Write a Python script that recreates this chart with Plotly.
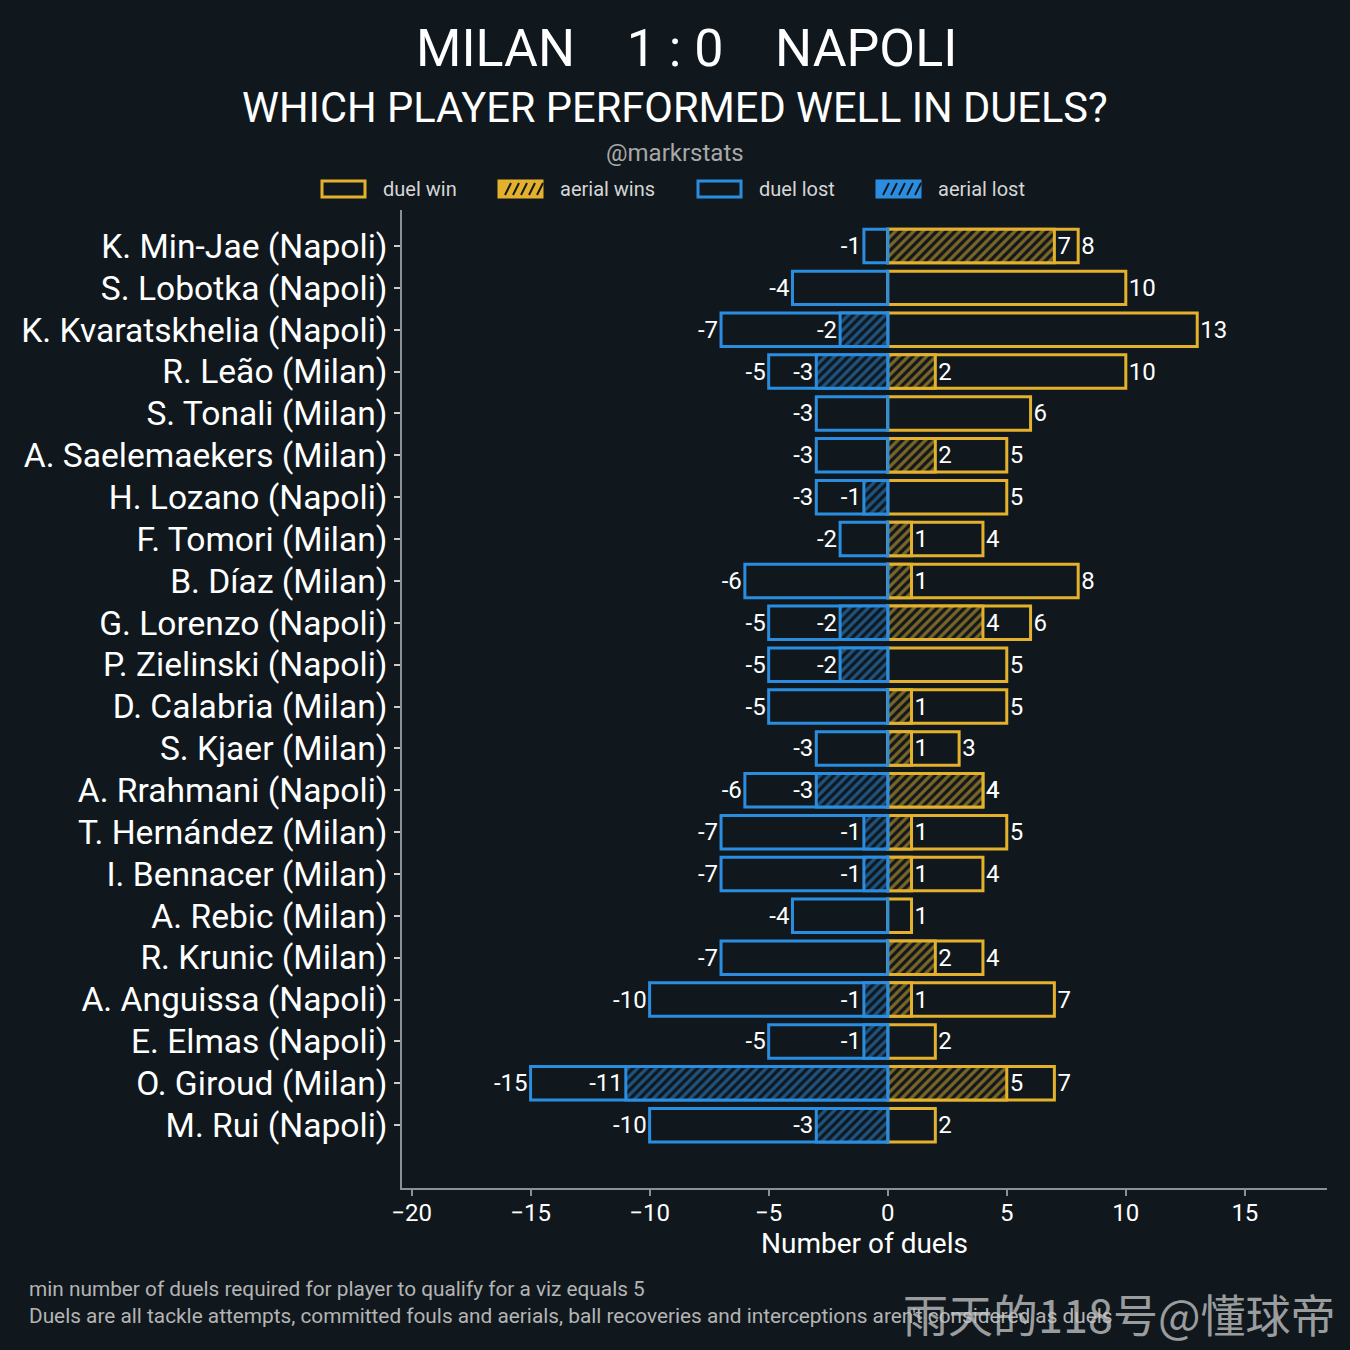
import plotly.graph_objects as go

# data (top to bottom)
players = [
    "K. Min-Jae (Napoli)", "S. Lobotka (Napoli)", "K. Kvaratskhelia (Napoli)",
    "R. Leão (Milan)", "S. Tonali (Milan)", "A. Saelemaekers (Milan)",
    "H. Lozano (Napoli)", "F. Tomori (Milan)", "B. Díaz (Milan)",
    "G. Lorenzo (Napoli)", "P. Zielinski (Napoli)", "D. Calabria (Milan)",
    "S. Kjaer (Milan)", "A. Rrahmani (Napoli)", "T. Hernández (Milan)",
    "I. Bennacer (Milan)", "A. Rebic (Milan)", "R. Krunic (Milan)",
    "A. Anguissa (Napoli)", "E. Elmas (Napoli)", "O. Giroud (Milan)",
    "M. Rui (Napoli)",
]
duel_win = [8, 10, 13, 10, 6, 5, 5, 4, 8, 6, 5, 5, 3, 4, 5, 4, 1, 4, 7, 2, 7, 2]
aerial_win = [7, 0, 0, 2, 0, 2, 0, 1, 1, 4, 0, 1, 1, 4, 1, 1, 0, 2, 1, 0, 5, 0]
duel_lost = [-1, -4, -7, -5, -3, -3, -3, -2, -6, -5, -5, -5, -3, -6, -7, -7, -4, -7, -10, -5, -15, -10]
aerial_lost = [0, 0, -2, -3, 0, 0, -1, 0, 0, -2, -2, 0, 0, -3, -1, -1, 0, 0, -1, -1, -11, -3]

BG = "#10181e"
GOLD = "#e3b12c"
BLUE = "#2b8de0"
AXIS = "#8a9297"
FONT = "Roboto"

# plot area in pixels
L, R, T, B = 402, 23, 210, 162
W = H = 1350
PW, PH = W - L - R, H - T - B


def px(x):
    return (x - L) / PW


def py(y):
    return (H - B - y) / PH


def nz(vals):
    return [v if v != 0 else None for v in vals]


def labels(vals):
    return [str(v) if v != 0 else "" for v in vals]


fig = go.Figure()


def add_bar(vals, color, hatched, name):
    marker = dict(line=dict(color=color, width=3))
    if hatched:
        marker["color"] = BG
        marker["pattern"] = dict(shape="/", fgcolor=color, bgcolor=BG,
                                 size=6.5, solidity=0.5, fillmode="overlay")
    else:
        marker["color"] = "rgba(0,0,0,0)"
    fig.add_trace(go.Bar(
        y=players, x=nz(vals), orientation="h", name=name,
        marker=marker, width=0.8,
        text=labels(vals), textposition="outside",
        textfont=dict(family=FONT, size=24, color="white"),
        constraintext="none", cliponaxis=False, showlegend=False,
    ))


add_bar(duel_win, GOLD, False, "duel win")
add_bar(aerial_win, GOLD, True, "aerial wins")
add_bar(duel_lost, BLUE, False, "duel lost")
add_bar(aerial_lost, BLUE, True, "aerial lost")

# manual legend (wide boxes like the original)
legend_items = [
    (322, "duel win", GOLD, False),
    (499, "aerial wins", GOLD, True),
    (698, "duel lost", BLUE, False),
    (877, "aerial lost", BLUE, True),
]
shapes = []
annotations = []
for x0, label, color, hatched in legend_items:
    shapes.append(dict(type="rect", xref="paper", yref="paper",
                       x0=px(x0), x1=px(x0 + 43), y0=py(197), y1=py(181),
                       line=dict(color=color, width=3),
                       fillcolor=color if hatched else BG))
    if hatched:
        for k in range(5):
            sx = x0 + 6 + k * 8
            shapes.append(dict(type="line", xref="paper", yref="paper",
                               x0=px(sx), x1=px(sx + 6), y0=py(195), y1=py(183),
                               line=dict(color=BG, width=2)))
    annotations.append(dict(xref="paper", yref="paper", x=px(x0 + 59), y=py(189),
                            text=label, showarrow=False, xanchor="left", yanchor="middle",
                            font=dict(family=FONT, size=20, color="#d6d6d6")))

annotations += [
    dict(xref="paper", yref="paper", x=px(686), y=py(48),
         text="MILAN\u00a0\u00a0\u00a0 1 : 0 \u00a0\u00a0\u00a0NAPOLI", showarrow=False,
         xanchor="center", yanchor="middle", font=dict(family=FONT, size=52, color="white")),
    dict(xref="paper", yref="paper", x=px(675), y=py(108),
         text="WHICH PLAYER PERFORMED WELL IN DUELS?", showarrow=False,
         xanchor="center", yanchor="middle", font=dict(family=FONT, size=41.6, color="white")),
    dict(xref="paper", yref="paper", x=px(675), y=py(153),
         text="@markrstats", showarrow=False,
         xanchor="center", yanchor="middle", font=dict(family=FONT, size=24, color="#a8a8a8")),
    dict(xref="paper", yref="paper", x=px(27), y=py(1289),
         text="min number of duels required for player to qualify for a viz equals 5",
         showarrow=False, xanchor="left", yanchor="middle",
         font=dict(family=FONT, size=20.8, color="#b4b4b4")),
    dict(xref="paper", yref="paper", x=px(27), y=py(1316),
         text="Duels are all tackle attempts, committed fouls and aerials, ball recoveries "
              "and interceptions aren't considered as duels",
         showarrow=False, xanchor="left", yanchor="middle",
         font=dict(family=FONT, size=20.8, color="#b4b4b4")),
    dict(xref="paper", yref="paper", x=px(1338), y=py(1313),
         text="雨天的118号@懂球帝", showarrow=False, xanchor="right", yanchor="middle",
         opacity=0.75, font=dict(family="Noto Sans CJK SC", size=45, color="#c8c8c8")),
]

fig.update_layout(
    width=W, height=H,
    margin=dict(l=L, r=R, t=T, b=B, pad=0),
    paper_bgcolor=BG, plot_bgcolor=BG,
    barmode="overlay",
    showlegend=False,
    font=dict(family=FONT, color="white"),
    shapes=shapes,
    annotations=annotations,
    xaxis=dict(
        range=[-20.4, 18.45], tickvals=[-20, -15, -10, -5, 0, 5, 10, 15],
        showgrid=False, zeroline=False, showline=True, linecolor=AXIS, linewidth=1.5,
        ticks="outside", ticklen=6, tickcolor=AXIS, tickwidth=1.5,
        ticklabelstandoff=-4,
        tickfont=dict(family=FONT, size=24, color="white"),
        title=dict(text="Number of duels", standoff=8,
                   font=dict(family=FONT, size=28, color="white")),
    ),
    yaxis=dict(
        categoryorder="array", categoryarray=players,
        range=[len(players) + 0.5, -0.86],
        showgrid=False, zeroline=False, showline=True, linecolor=AXIS, linewidth=1.5,
        ticks="outside", ticklen=6, tickcolor="#cccccc", tickwidth=1.5,
        tickfont=dict(family=FONT, size=33.6, color="white"),
    ),
)

fig.write_html("out.html", config={"displayModeBar": False},
               post_script="document.body.style.margin='0px';"
               "document.body.style.background='" + BG + "';")
